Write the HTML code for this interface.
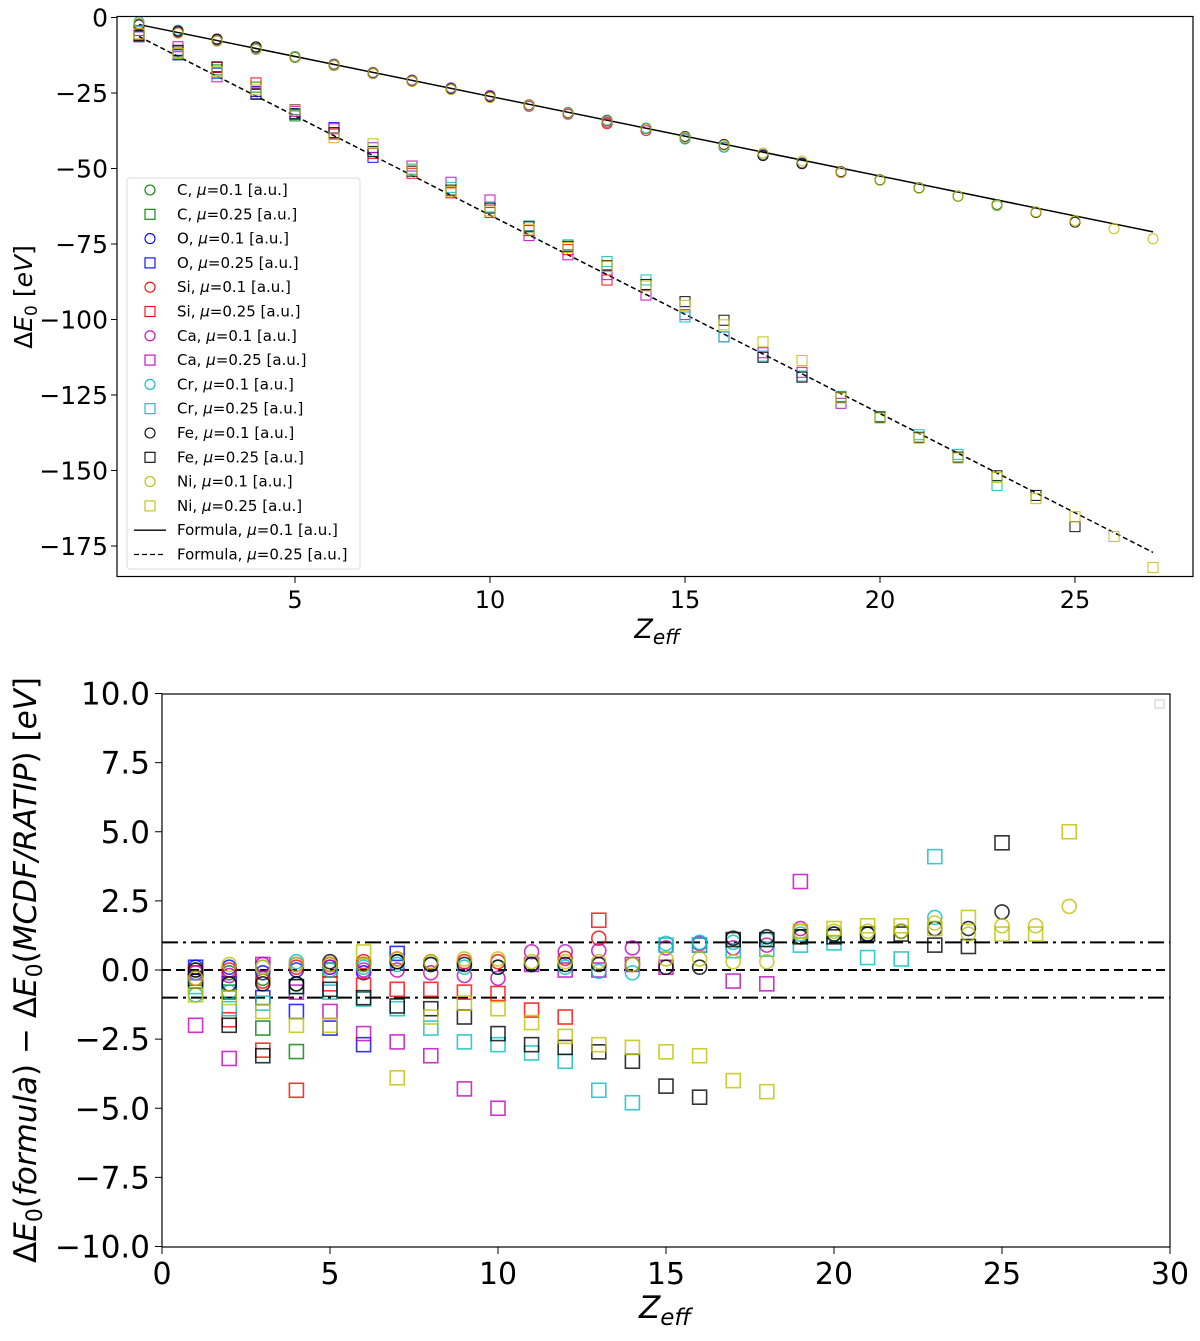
<!DOCTYPE html>
<html><head><meta charset="utf-8"><style>
body{margin:0;background:#fff;}
svg text{font-family:"DejaVu Sans","Liberation Sans",sans-serif;}
</style></head><body>
<svg id="chart" width="1200" height="1336" viewBox="0 0 1200 1336" xmlns="http://www.w3.org/2000/svg"></svg>
<script>
// ---- data ----
const elements = ["C","O","Si","Ca","Cr","Fe","Ni"];
const colors = ["#008000","#0000ff","#ff0000","#bf00bf","#00bfbf","#000000","#bfbf00"];
const diffC1 = [0.0,-0.1,-0.3,-0.5,0.2];
const diffC25 = [-0.3,-0.8,-2.1,-2.95,0.0];
const diffO1 = [0.1,0.1,-0.1,0.0,0.1,-0.1,0.3];
const diffO25 = [0.1,-0.5,-1.0,-1.5,-2.1,-2.7,0.6];
const diffSi1 = [-0.3,0.0,-0.4,0.1,0.2,0.3,0.4,0.3,0.3,0.3,0.2,0.42,1.15];
const diffSi25 = [-0.1,-1.8,-2.9,-4.35,-0.5,-0.55,-0.7,-0.7,-0.8,-0.85,-1.45,-1.7,1.8];
const diffCa1 = [-0.1,-0.2,0.2,0.2,0.1,0.0,0.0,-0.1,-0.2,-0.3,0.66,0.66,0.7,0.8,0.8,0.96,0.8,0.9,1.5];
const diffCa25 = [-2.0,-3.2,0.2,-0.8,-1.5,-2.3,-2.6,-3.1,-4.3,-5.0,0.2,0.0,0.0,0.2,0.1,0.9,-0.4,-0.5,3.2];
const diffCr1 = [-0.9,-0.8,0.1,0.3,0.0,0.1,0.2,0.2,0.1,0.1,0.2,0.1,-0.05,-0.1,0.96,1.0,1.0,1.1,1.3,1.3,1.3,1.4,1.9];
const diffCr25 = [-0.6,-1.4,-1.2,-0.6,-0.8,-1.05,-1.4,-2.1,-2.6,-2.7,-3.0,-3.3,-4.35,-4.8,0.9,0.9,0.7,0.75,0.9,0.98,0.45,0.4,4.1];
const diffFe1 = [0.0,-0.5,-0.5,-0.5,0.3,0.2,0.3,0.2,0.2,0.1,0.2,0.2,0.2,0.2,0.1,0.1,1.15,1.2,1.2,1.3,1.3,1.4,1.5,1.5,2.1];
const diffFe25 = [-0.4,-2.0,-3.1,-0.6,-0.7,-1.0,-1.3,-1.4,-1.7,-2.3,-2.7,-2.8,-2.96,-3.3,-4.2,-4.6,1.1,1.1,1.2,1.2,1.3,1.3,0.9,0.85,4.6];
const diffNi1 = [-0.3,0.2,0.1,0.2,0.2,0.2,0.4,0.3,0.4,0.4,0.3,0.3,0.3,0.2,0.4,0.4,0.3,0.3,1.4,1.4,1.4,1.4,1.7,1.3,1.6,1.6,2.3];
const diffNi25 = [-0.9,-1.0,-1.5,-2.0,-2.0,0.65,-3.9,-1.7,-1.2,-1.4,-1.9,-2.4,-2.7,-2.8,-2.96,-3.1,-4.0,-4.4,1.4,1.5,1.6,1.6,1.5,1.9,1.3,1.3,5.0];
const diffs1 = [diffC1,diffO1,diffSi1,diffCa1,diffCr1,diffFe1,diffNi1];
const diffs25 = [diffC25,diffO25,diffSi25,diffCa25,diffCr25,diffFe25,diffNi25];
// formula line coefficients (slope, intercept)
const formula1 = [-2.64, 0.3];
const formula25 = [-6.57, 0.27];
const topYTicks = [0,-25,-50,-75,-100,-125,-150,-175];
const topXTicks = [5,10,15,20,25];
const botYTicks = [10,7.5,5,2.5,0,-2.5,-5,-7.5,-10];
const botXTicks = [0,5,10,15,20,25,30];

const NS="http://www.w3.org/2000/svg";
const svg=document.getElementById('chart');
function mk(tag,attrs,parent){const e=document.createElementNS(NS,tag);for(const k in attrs)e.setAttribute(k,attrs[k]);(parent||svg).appendChild(e);return e;}
function fval(f,z){return f[0]*z+f[1];}

// ---- top axes ----
const tx=z=>100+39*z, ty=v=>17.5-3.02*v;
const gTop=mk('g',{});


let l1=mk('line',{x1:tx(1),y1:ty(fval(formula1,1)),x2:tx(27),y2:ty(fval(formula1,27)),stroke:'#000','stroke-width':1.5},gTop);


let l2=mk('line',{x1:tx(1),y1:ty(fval(formula25,1)),x2:tx(27),y2:ty(fval(formula25,27)),stroke:'#000','stroke-width':1.5,'stroke-dasharray':'5,3'},gTop);


elements.forEach((el,i)=>{
  diffs1[i].forEach((d,k)=>{const z=k+1;const c=mk('circle',{cx:tx(z),cy:ty(fval(formula1,z)-d),r:5,fill:'none',stroke:colors[i],'stroke-width':1.1,opacity:0.85},gTop);
    
    });
  diffs25[i].forEach((d,k)=>{const z=k+1;const s=mk('rect',{x:tx(z)-5,y:ty(fval(formula25,z)-d)-5,width:10,height:10,fill:'none',stroke:colors[i],'stroke-width':1.1,opacity:0.85},gTop);
    
    });
});
let fr=mk('rect',{x:117,y:16.5,width:1076,height:560,fill:'none',stroke:'#000','stroke-width':1.2},gTop);


topYTicks.forEach(v=>{mk('line',{x1:111,x2:117,y1:ty(v),y2:ty(v),stroke:'#000'},gTop);
  const t=mk('text',{x:108,y:ty(v)+9,'text-anchor':'end','font-size':25},gTop);t.textContent=v<0?'\u2212'+(-v):v;
  
  });
topXTicks.forEach(v=>{mk('line',{x1:tx(v),x2:tx(v),y1:577,y2:583,stroke:'#000'},gTop);
  const t=mk('text',{x:tx(v),y:608,'text-anchor':'middle','font-size':24},gTop);t.textContent=v;
  
  });
const lg=mk('g',{},gTop);


mk('rect',{x:127,y:178,width:233,height:391,rx:3,fill:'#fff',stroke:'#ddd'},lg);
let li=0;
elements.forEach((el,i)=>{
  [['0.1',true],['0.25',false]].forEach(([m,circ])=>{
    const y=190+li*24.3;
    if(circ) mk('circle',{cx:150,cy:y,r:5,fill:'none',stroke:colors[i],'stroke-width':1.1},lg);
    else mk('rect',{x:145,y:y-5,width:10,height:10,fill:'none',stroke:colors[i],'stroke-width':1.1},lg);
    const t=mk('text',{x:177,y:y+5,'font-size':15},lg);
    t.innerHTML=el+', <tspan font-style="italic">\u03bc</tspan>='+m+' [a.u.]';
    
    
    li++;});
});
[['Formula, ','0.1',''],['Formula, ','0.25','5,3']].forEach(([a,m,da])=>{
  const y=190+li*24.3;
  mk('line',{x1:134,x2:166,y1:y,y2:y,stroke:'#000','stroke-width':1.3,'stroke-dasharray':da},lg);
  const t=mk('text',{x:177,y:y+5,'font-size':15},lg);
  t.innerHTML=a+'<tspan font-style="italic">\u03bc</tspan>='+m+' [a.u.]';
  
  
  li++;});
let xl=mk('text',{x:657,y:638,'text-anchor':'middle','font-size':27,'font-style':'italic'},gTop);
xl.innerHTML='Z<tspan font-size="20" dy="6">eff</tspan>';


let yl=mk('text',{x:0,y:0,'text-anchor':'middle','font-size':25,transform:'translate(32,297) rotate(-90)'},gTop);
yl.innerHTML='\u0394<tspan font-style="italic">E</tspan><tspan font-size="17" dy="5">0</tspan><tspan dy="-5"> [</tspan><tspan font-style="italic">eV</tspan>]';



// ---- bottom axes ----
const bx=z=>162+33.6*z, by=v=>970-27.65*v;
const gB=mk('g',{});


[[1,'16,5,3,5'],[0,'9,5'],[-1,'16,5,3,5']].forEach(([v,da])=>{
  const l=mk('line',{x1:162,x2:1170,y1:by(v),y2:by(v),stroke:'#000','stroke-width':2,'stroke-dasharray':da},gB);
  
  });
elements.forEach((el,i)=>{
  diffs1[i].forEach((d,k)=>{const z=k+1;const c=mk('circle',{cx:bx(z),cy:by(d),r:7,fill:'none',stroke:colors[i],'stroke-width':1.6,opacity:0.8},gB);
    
    });
  diffs25[i].forEach((d,k)=>{const z=k+1;const s=mk('rect',{x:bx(z)-7,y:by(d)-7,width:14,height:14,fill:'none',stroke:colors[i],'stroke-width':1.6,opacity:0.8},gB);
    
    });
});
mk('rect',{x:1155,y:700,width:9,height:8,fill:'none',stroke:'#ccc'},gB);
let fb=mk('rect',{x:162,y:694,width:1008,height:553,fill:'none',stroke:'#000','stroke-width':1.2},gB);


botYTicks.forEach(v=>{mk('line',{x1:155,x2:162,y1:by(v),y2:by(v),stroke:'#000'},gB);
  const t=mk('text',{x:150,y:by(v)+11,'text-anchor':'end','font-size':31},gB);t.textContent=(v<0?'\u2212':'')+Math.abs(v).toFixed(1);
  
  });
botXTicks.forEach(v=>{mk('line',{x1:bx(v),x2:bx(v),y1:1247,y2:1254,stroke:'#000'},gB);
  const t=mk('text',{x:bx(v),y:1284,'text-anchor':'middle','font-size':30},gB);t.textContent=v;
  
  });
let bxl=mk('text',{x:665,y:1318,'text-anchor':'middle','font-size':31,'font-style':'italic'},gB);
bxl.innerHTML='Z<tspan font-size="23" dy="7">eff</tspan>';


let byl=mk('text',{x:0,y:0,'text-anchor':'middle','font-size':31,transform:'translate(36,970) rotate(-90)'},gB);
byl.innerHTML='\u0394<tspan font-style="italic">E</tspan><tspan font-size="22" dy="6">0</tspan><tspan dy="-6">(</tspan><tspan font-style="italic">formula</tspan>) \u2212 \u0394<tspan font-style="italic">E</tspan><tspan font-size="22" dy="6">0</tspan><tspan dy="-6">(</tspan><tspan font-style="italic">MCDF/RATIP</tspan>) [<tspan font-style="italic">eV</tspan>]';


</script>
</body></html>
